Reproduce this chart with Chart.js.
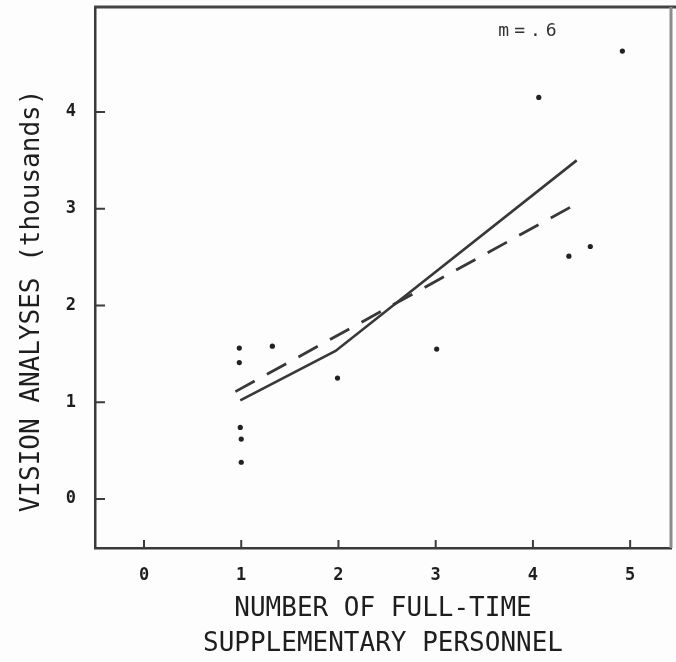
<!DOCTYPE html>
<html>
<head>
<meta charset="utf-8">
<script src="https://cdn.jsdelivr.net/npm/chart.js@4.4.0/dist/chart.umd.min.js"></script>
<style>
  html, body { margin: 0; padding: 0; background: #fff; }
  #wrap { width: 676px; height: 662px; position: relative; }
</style>
</head>
<body>
<div id="wrap"><canvas id="chart"></canvas></div>
<script>
// points
const pointX = [0.98, 0.98, 0.99, 1.00, 1.00, 1.32, 1.99, 3.01, 4.06, 4.37, 4.59, 4.92];
const pointY = [1.56, 1.41, 0.74, 0.62, 0.38, 1.58, 1.25, 1.55, 4.15, 2.51, 2.61, 4.63];

// solid line (bends near 2)
const solidX = [0.99, 1.97, 4.45];
const solidY = [1.02, 1.53, 3.50];

// dashed line
const dashX = [0.94, 4.41];
const dashY = [1.11, 3.03];

const xTicks = [0, 1, 2, 3, 4, 5];
const yTicks = [0, 1, 2, 3, 4];

const xTitle = ['NUMBER OF FULL-TIME', 'SUPPLEMENTARY PERSONNEL'];
const yTitle = 'VISION ANALYSES (thousands)';

const noteText = 'm=.6';
const noteX = 3.97;
const noteY = 4.83;

const ink = '#1e1e1e';
const mono = '"DejaVu Sans Mono", "Liberation Mono", monospace';

function toXY(xs, ys) {
    return xs.map((v, i) => ({ x: v, y: ys[i] }));
}

// inward tick marks, top/right frame and the m=.6 note
const framePlugin = {
    id: 'frame',
    beforeDraw(chart) {
        const ctx = chart.ctx;
        ctx.save();
        ctx.fillStyle = '#fdfdfd';
        ctx.fillRect(0, 0, chart.width, chart.height);
        ctx.restore();
    },
    afterDraw(chart) {
        const { ctx, chartArea: a, scales } = chart;
        const xs = scales.x, ys = scales.y;
        ctx.save();
        ctx.strokeStyle = '#3c3c3c';
        ctx.lineWidth = 2;
        ctx.beginPath();
        yTicks.forEach(v => {
            const py = ys.getPixelForValue(v);
            ctx.moveTo(a.left, py);
            ctx.lineTo(a.left + 10, py);
        });
        xTicks.forEach(v => {
            const px = xs.getPixelForValue(v);
            ctx.moveTo(px, a.bottom);
            ctx.lineTo(px, a.bottom - 8);
        });
        ctx.stroke();

        ctx.strokeStyle = '#444';
        ctx.lineWidth = 3;
        ctx.beginPath();
        ctx.moveTo(a.left - 1, a.top);
        ctx.lineTo(chart.width, a.top);
        ctx.stroke();

        ctx.strokeStyle = '#8c8c8c';
        ctx.lineWidth = 3;
        ctx.beginPath();
        ctx.moveTo(a.right, a.top);
        ctx.lineTo(a.right, a.bottom);
        ctx.stroke();

        ctx.fillStyle = '#333';
        ctx.font = '18px ' + mono;
        ctx.letterSpacing = '5px';
        ctx.textAlign = 'center';
        ctx.textBaseline = 'middle';
        ctx.fillText(noteText, xs.getPixelForValue(noteX), ys.getPixelForValue(noteY));
        ctx.restore();
    }
};

const ctx = document.getElementById('chart').getContext('2d');
new Chart(ctx, {
    type: 'scatter',
    data: {
        datasets: [
            {
                label: 'points',
                data: toXY(pointX, pointY),
                backgroundColor: '#222',
                borderColor: '#222',
                pointRadius: 2.6,
                pointBorderWidth: 0
            },
            {
                label: 'solid',
                data: toXY(solidX, solidY),
                showLine: true,
                borderColor: '#383838',
                borderWidth: 2.6,
                pointRadius: 0,
                fill: false
            },
            {
                label: 'dashed',
                data: toXY(dashX, dashY),
                showLine: true,
                borderColor: '#383838',
                borderWidth: 2.8,
                borderDash: [22, 14],
                pointRadius: 0,
                fill: false
            }
        ]
    },
    options: {
        responsive: true,
        maintainAspectRatio: false,
        animation: false,
        layout: { padding: { left: 0, top: 7, right: 5, bottom: 0 } },
        plugins: {
            legend: { display: false },
            tooltip: { enabled: false }
        },
        scales: {
            x: {
                type: 'linear',
                min: -0.504,
                max: 5.42,
                afterBuildTicks: s => { s.ticks = xTicks.map(v => ({ value: v })); },
                afterFit: s => { s.height = 114; s.paddingLeft = 0; s.paddingRight = 0; },
                grid: { drawOnChartArea: false, drawTicks: false },
                border: { display: true, color: '#3a3a3a', width: 2.5 },
                ticks: {
                    color: ink,
                    padding: 17,
                    maxRotation: 0,
                    font: { family: mono, size: 17, weight: 'bold' }
                },
                title: {
                    display: true,
                    text: xTitle,
                    color: ink,
                    font: { family: mono, size: 26, lineHeight: 1.35 },
                    padding: { top: 0, bottom: 0 }
                }
            },
            y: {
                type: 'linear',
                min: -0.506,
                max: 5.085,
                afterBuildTicks: s => { s.ticks = yTicks.map(v => ({ value: v })); },
                afterFit: s => { s.width = 95; s.paddingTop = 0; s.paddingBottom = 0; },
                grid: { drawOnChartArea: false, drawTicks: false },
                border: { display: true, color: '#3a3a3a', width: 2.5 },
                ticks: {
                    color: ink,
                    padding: 19,
                    font: { family: mono, size: 17, weight: 'bold' }
                },
                title: {
                    display: true,
                    text: yTitle + '   ',
                    color: ink,
                    font: { family: mono, size: 26, lineHeight: 1.2 },
                    padding: { top: 17, bottom: 0 }
                }
            }
        }
    },
    plugins: [framePlugin]
});
</script>
</body>
</html>
